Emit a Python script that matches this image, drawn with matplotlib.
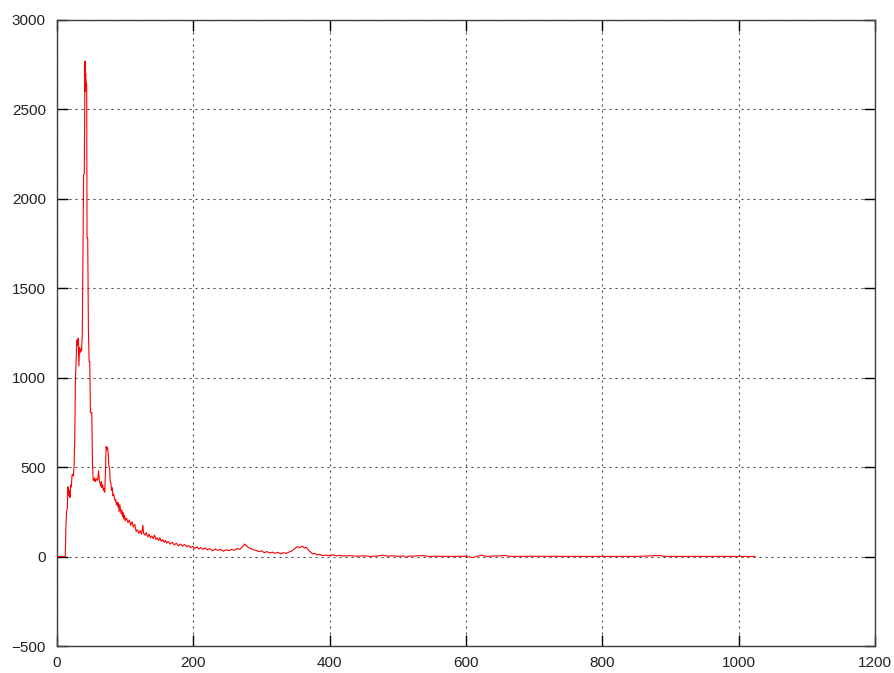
import numpy as np
import matplotlib
matplotlib.use('Agg')
import matplotlib.pyplot as plt

# channel / counts
xs = [0, 12, 13, 14, 15, 16, 17, 18, 19, 20, 21, 22, 23, 24, 25, 26, 27, 28, 29,
      30, 31, 32, 33, 34, 35, 36, 37, 38, 39, 40, 41, 41.5, 42, 42.5, 43, 43.5, 44,
      45, 46, 47, 48, 49, 50, 51, 52, 53, 54, 55, 56, 57, 58, 59, 60, 61, 62, 63,
      64, 65, 66, 67, 68, 69, 70, 71, 72, 73, 74, 75, 76, 77, 78, 79, 80, 81, 82,
      83, 84, 85, 86, 87, 88, 89, 90, 91, 92, 93, 94, 95, 96, 97, 98, 99, 100,
      102, 104, 106, 108, 110, 112, 114, 116, 118, 120, 122, 124, 126, 127, 129,
      131, 133, 135, 137, 139, 141, 143, 145, 147, 149, 151, 153, 155, 157, 159,
      161, 163, 166, 169, 172, 175, 178, 181, 184, 187, 190, 193, 196, 199, 202,
      205, 208, 211, 214, 217, 220, 224, 228, 232, 236, 240, 244, 248, 252, 256,
      260, 264, 268, 272, 275, 278, 281, 284, 288, 292, 296, 300, 304, 308, 312,
      316, 320, 324, 328, 332, 336, 340, 344, 348, 352, 356, 360, 363, 366, 369,
      372, 375, 378, 381, 385, 390, 395, 400, 405, 410, 415, 420, 430, 440, 450,
      460, 470, 478, 485, 492, 500, 508, 512, 515, 525, 537, 545, 560, 580, 600,
      610, 615, 622, 630, 657, 665, 700, 750, 800, 850, 884, 890, 950, 1000, 1024]
counts = [0, 0, 160, 255, 265, 390, 340, 370, 330, 400, 390, 455, 460, 450, 505,
          670, 1000, 1090, 1210, 1180, 1220, 1065, 1170, 1140, 1160, 1150, 1240,
          1700, 2135, 2140, 2770, 2600, 2700, 2620, 2650, 2640, 1780, 1780, 1280,
          1090, 1090, 805, 805, 805, 514, 430, 425, 440, 420, 430, 435, 425, 440,
          480, 430, 410, 395, 420, 385, 400, 370, 380, 360, 470, 615, 600, 610,
          580, 505, 500, 420, 410, 370, 385, 340, 350, 330, 315, 320, 290, 305,
          280, 300, 250, 290, 265, 240, 260, 225, 245, 210, 230, 200,
          215, 190, 205, 175, 195, 165, 180, 140, 150, 130, 145, 125, 175, 130, 120,
          135, 110, 125, 105, 115, 100, 120, 95, 105, 90, 105, 85, 95, 80, 90,
          75, 85, 70, 80, 65, 75, 60, 70, 58, 68, 55, 62, 50, 58, 45,
          55, 42, 50, 40, 48, 38, 45, 32, 42, 35, 40, 30, 38, 33, 40,
          35, 45, 40, 55, 70, 60, 50, 45, 38, 35, 28, 32, 22, 28, 20,
          25, 18, 24, 15, 22, 18, 25, 30, 42, 55, 50, 58, 48, 52, 35,
          25, 15, 18, 10, 12, 6, 8, 5, 10, 4, 7, 3, 5, 2, 4,
          1, 3, 8, 2, 5, 1, 4, -5, 2, 3, 6, 1, 2, 1, 2,
          -6, 1, 8, 1, 6, 1, 2, 1, 1, 1, 6, 1, 1, 1, 0]

plt.rcParams['font.family'] = ['Liberation Sans', 'DejaVu Sans']

fig = plt.figure(figsize=(8.94, 6.73), dpi=100)
ax = fig.add_axes([0.0638, 0.0401, 0.9150, 0.9302])

ax.plot(xs, counts, color='red', lw=0.8, zorder=3)

ax.set_xlim(0, 1200)
ax.set_ylim(-500, 3000)
ax.set_xticks(np.arange(0, 1201, 200))
ax.set_yticks(np.arange(-500, 3001, 500))

ax.grid(True, color='#444444', lw=0.8, linestyle=(0, (1.8, 3.6)), zorder=1)
for spine in ax.spines.values():
    spine.set_color('#404040')
    spine.set_linewidth(1.0)

ax.tick_params(direction='in', length=8, width=1.0, color='black',
               top=True, right=True, labelsize=11, labelcolor='#222222')
ax.tick_params(axis='y', pad=8)
ax.tick_params(axis='x', pad=7)

fig.savefig('out.png', dpi=100)
